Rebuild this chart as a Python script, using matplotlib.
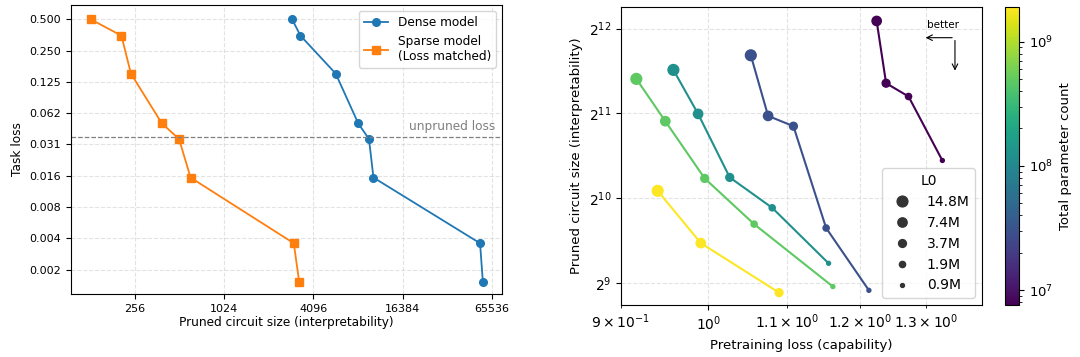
import numpy as np, matplotlib; matplotlib.use("Agg")
import matplotlib.pyplot as plt
from matplotlib.colors import LogNorm
from matplotlib.lines import Line2D

# left panel: task loss vs pruned circuit size
dense_size = [2940, 3350, 5790, 8200, 9700, 10400, 54400, 56800]
sparse_size = [129, 208, 241, 389, 509, 608, 3020, 3280]
task_loss = [0.5, 0.348, 0.150, 0.050, 0.0352, 0.0150, 0.0035, 0.0015]
unpruned_loss = 0.0369
left_xticks = [256, 1024, 4096, 16384, 65536]
left_yticks = [2.0**-k for k in range(1, 10)]

# right panel: one line per model size
params = [7.6e6, 3.0e7, 1.2e8, 4.8e8, 1.9e9]
pre_loss = [
    [1.225, 1.239, 1.273, 1.326],
    [1.0525, 1.0747, 1.108, 1.1526, 1.2136],
    [0.9587, 0.9877, 1.0261, 1.080, 1.156],
    [0.9168, 0.9494, 0.9956, 1.0567, 1.162],
    [0.9407, 0.9909, 1.089],
]
circ = [
    [4360, 2620, 2350, 1392],
    [3292, 2005, 1843, 801, 481],
    [2921, 2038, 1212, 945, 600],
    [2714, 1920, 1202, 827, 496],
    [1086, 708, 472],
]
l0 = [
    ["7.4M", "3.7M", "1.9M", "0.9M"],
    ["14.8M", "7.4M", "3.7M", "1.9M", "0.9M"],
    ["14.8M", "7.4M", "3.7M", "1.9M", "0.9M"],
    ["14.8M", "7.4M", "3.7M", "1.9M", "0.9M"],
    ["14.8M", "7.4M", "3.7M"],
]
l0_labels = ["14.8M", "7.4M", "3.7M", "1.9M", "0.9M"]
l0_sizes = dict(zip(l0_labels, [60, 45, 32, 20, 8]))

fig = plt.figure(figsize=(10.8, 3.57), dpi=100)

ax = fig.add_axes([0.0657, 0.1765, 0.399, 0.8095])
ax.plot(dense_size, task_loss, "-o", color="#1f77b4", ms=5.5, lw=1.3, label="Dense model")
ax.plot(sparse_size, task_loss, "-s", color="#ff7f0e", ms=5.8, lw=1.3, label="Sparse model\n(Loss matched)")
ax.axhline(unpruned_loss, ls="--", color="gray", lw=0.9)
ax.text(0.985, unpruned_loss * 1.08, "unpruned loss", transform=ax.get_yaxis_transform(),
        ha="right", va="bottom", color="gray", fontsize=8.7)
ax.set_xscale("log", base=2); ax.set_yscale("log", base=2)
ax.set_xlim(2**6.57, 2**16.22); ax.set_ylim(2**-9.78, 2**-0.543)
ax.set_xticks(left_xticks, [str(t) for t in left_xticks])
ax.set_yticks(left_yticks, [f"{t:.3f}" for t in left_yticks])
ax.minorticks_off()
ax.tick_params(labelsize=8)
ax.grid(True, ls="--", alpha=0.35)
ax.set_xlabel("Pruned circuit size (interpretability)", fontsize=8.7, labelpad=2)
ax.set_ylabel("Task loss", fontsize=8.7)
ax.legend(loc="upper right", fontsize=8.7)

ax2 = fig.add_axes([0.575, 0.1457, 0.3343, 0.8347])
cax = fig.add_axes([0.9306, 0.1457, 0.013, 0.8347])
norm = LogNorm(7.6e6, 1.9e9)
cmap = plt.get_cmap("viridis")
for p, xs, ys, ls in zip(params, pre_loss, circ, l0):
    c = cmap(norm(p))
    ax2.plot(xs, ys, color=c, lw=1.5, zorder=2)
    ax2.scatter(xs, ys, s=[l0_sizes[k] for k in ls], color=c, zorder=3)
ax2.set_xscale("log"); ax2.set_yscale("log", base=2)
ax2.set_xlim(0.9, 1.391); ax2.set_ylim(2**8.737, 2**12.255)
ax2.tick_params(labelsize=10, which="both")
ax2.grid(True, which="both", axis="x", ls="--", alpha=0.35)
ax2.grid(True, which="major", axis="y", ls="--", alpha=0.35)
ax2.set_xlabel("Pretraining loss (capability)", fontsize=9.5)
ax2.set_ylabel("Pruned circuit size (interpretability)", fontsize=9.5)
ax2.annotate("", xy=(0.836, 0.897), xytext=(0.925, 0.897), xycoords="axes fraction",
             arrowprops=dict(arrowstyle="->", lw=0.8, color="black"))
ax2.annotate("", xy=(0.925, 0.777), xytext=(0.925, 0.897), xycoords="axes fraction",
             arrowprops=dict(arrowstyle="->", lw=0.8, color="black"))
ax2.text(0.893, 0.941, "better", transform=ax2.transAxes, ha="center", va="center", fontsize=7.5)
handles = [Line2D([], [], ls="", marker="o", color="#333333", ms=np.sqrt(l0_sizes[k])) for k in l0_labels]
ax2.legend(handles, l0_labels, title="L0", loc="lower right", fontsize=10, title_fontsize=10)

sm = plt.cm.ScalarMappable(norm=norm, cmap=cmap)
cb = fig.colorbar(sm, cax=cax)
cb.set_label("Total parameter count", fontsize=9.5)
cb.ax.tick_params(labelsize=9.5)

fig.savefig("out.png", dpi=100)
